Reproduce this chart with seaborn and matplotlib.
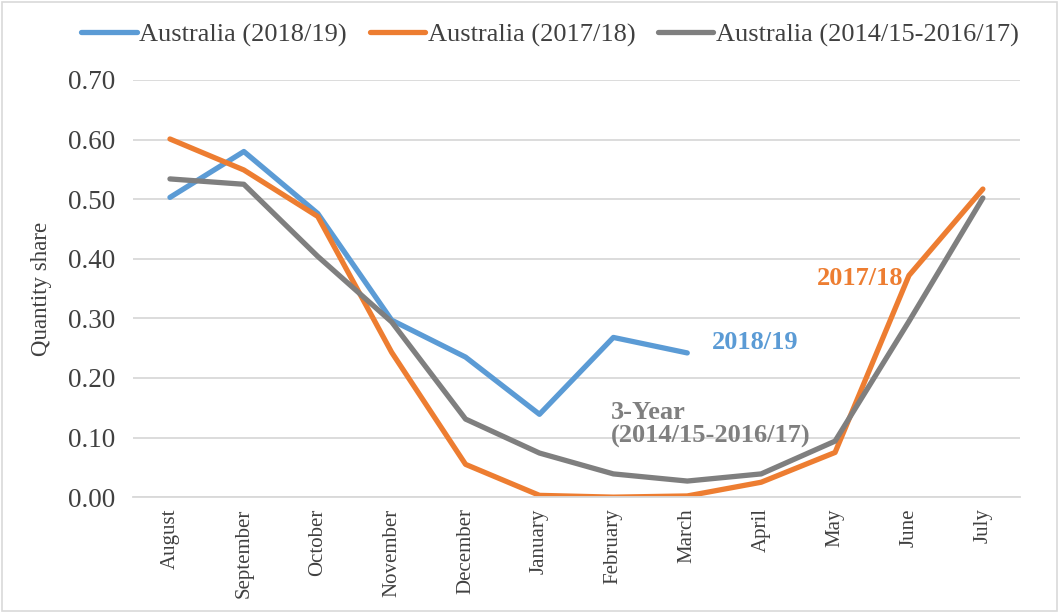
import matplotlib
matplotlib.use("Agg")
import matplotlib.pyplot as plt
import seaborn as sns
import pandas as pd
import numpy as np

months = ["August", "September", "October", "November", "December", "January",
          "February", "March", "April", "May", "June", "July"]
s2018_19 = [0.503, 0.580, 0.476, 0.297, 0.235, 0.139, 0.268, 0.242]
s2017_18 = [0.601, 0.549, 0.471, 0.243, 0.055, 0.003, 0.000, 0.002, 0.025, 0.075, 0.372, 0.517]
s3yr = [0.534, 0.525, 0.404, 0.294, 0.131, 0.074, 0.039, 0.027, 0.039, 0.094, 0.295, 0.502]
series_names = ["Australia (2018/19)", "Australia (2017/18)", "Australia (2014/15-2016/17)"]
yticks = [0.0, 0.1, 0.2, 0.3, 0.4, 0.5, 0.6, 0.7]

colors = ["#5B9BD5", "#ED7D31", "#7F7F7F"]

rows = []
for name, vals in zip(series_names, [s2018_19, s2017_18, s3yr]):
    for i, v in enumerate(vals):
        rows.append({"idx": i, "value": v, "series": name})
df = pd.DataFrame(rows)

sns.set_theme(style="white")
plt.rcParams["font.family"] = ["Liberation Serif", "DejaVu Serif"]

fig = plt.figure(figsize=(10.59, 6.13), dpi=100)
ax = fig.add_axes([0.1256, 0.189, 0.963 - 0.1256, 0.8695 - 0.189])

sns.lineplot(data=df, x="idx", y="value", hue="series", hue_order=series_names,
             palette=colors, linewidth=3.8, ax=ax, sort=False, legend=True)

ax.set_xlim(-0.5, len(months) - 0.5)
ax.set_ylim(0, 0.70)
ax.set_yticks(yticks)
ax.set_yticklabels([f"{t:.2f}" for t in yticks], fontsize=19.5, color="#404040")
ax.set_xticks(range(len(months)))
ax.set_xticklabels(months, rotation=90, fontsize=15, color="#404040", va="top")
ax.set_xticks(np.arange(-0.5, len(months), 1.0), minor=True)
ax.tick_params(axis="x", which="major", length=0, pad=8)
ax.tick_params(axis="x", which="minor", length=6, width=1.2, color="#D9D9D9", direction="out")
ax.tick_params(axis="y", length=0, pad=13)
ax.grid(axis="y", color="#D9D9D9", linewidth=1.3)
ax.set_axisbelow(True)
for sp in ["top", "right", "left"]:
    ax.spines[sp].set_visible(False)
ax.spines["bottom"].set_color("#D9D9D9")
ax.spines["bottom"].set_linewidth(1.3)
ax.set_xlabel("")
ax.set_ylabel("Quantity share", fontsize=16.5, color="#404040", labelpad=11)

ax.legend(loc="center", frameon=False, ncol=3, fontsize=19, handlelength=2.1,
          handletextpad=0.1, columnspacing=0.85, labelcolor="#404040")
leg = ax.get_legend()
leg.set_bbox_to_anchor((550 / 1059, 1 - 35 / 613), transform=fig.transFigure)
for line in leg.get_lines():
    line.set_linewidth(3.8)

ax.text(7.33, 0.26, "2018/19", color=colors[0], fontsize=19, fontweight="bold",
        ha="left", va="center")
ax.text(9.93, 0.367, "2017/18", color=colors[1], fontsize=19, fontweight="bold",
        ha="right", va="center")
ax.text(5.97, 0.122, "3-Year\n(2014/15-2016/17)", color=colors[2], fontsize=19,
        fontweight="bold", ha="left", va="center", linespacing=1.05)

fig.patches.append(plt.Rectangle((0.002, 0.003), 0.996, 0.994, transform=fig.transFigure,
                                 fill=False, edgecolor="#D9D9D9", linewidth=1.2))

fig.savefig("out.png", dpi=100, facecolor="white")
